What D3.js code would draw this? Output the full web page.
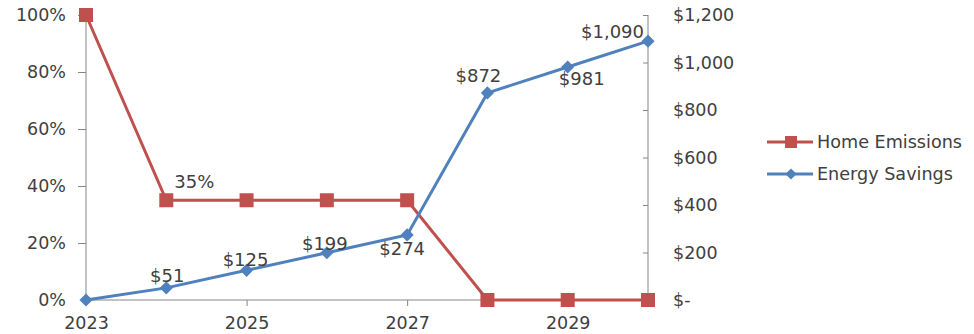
<!DOCTYPE html>
<html>
<head>
<meta charset="utf-8">
<script src="https://cdn.jsdelivr.net/npm/d3@7"></script>
<style>
  body { margin: 0; background: #fff; }
  text { font-family: "DejaVu Sans", sans-serif; fill: #404040; }
</style>
</head>
<body>
<svg class="svg" width="974" height="334"></svg>
<script>
var years = [2023, 2024, 2025, 2026, 2027, 2028, 2029, 2030];
var yearLabels = [2023, 2025, 2027, 2029];
var emissions = [1.00, 0.35, 0.35, 0.35, 0.35, 0, 0, 0];
var savings = [0, 51, 125, 199, 274, 872, 981, 1090];
var pctTicks = [0, 0.2, 0.4, 0.6, 0.8, 1.0];
var dollarTicks = [0, 200, 400, 600, 800, 1000, 1200];
// which labels are shown
var emissionShown = [false, true, false, false, false, false, false, false];
var savingShown = [false, true, true, true, true, true, true, true];

var red = '#C0504D';
var blue = '#4F81BD';
var axisColor = '#868686';

// hand-moved label spots (like dragging them in the spreadsheet)
var emissionNudge = [null, [8, -12, 'start']];
var savingNudge = [null, [1, -6, 'middle'], [-1, -4, 'middle'], [-2, -3, 'middle'],
    [-5, 20, 'middle'], [-9, -11, 'middle'], [14, 18, 'middle'], [-4, -3, 'end']];

var svg = d3.select('.svg');
var margin = {top: 15, right: 326, bottom: 34, left: 86};
var width = 974 - margin.left - margin.right;
var height = 334 - margin.top - margin.bottom;
var g = svg.append('g').attr('transform', 'translate(' + margin.left + ',' + margin.top + ')');

var x = d3.scalePoint()
    .domain(years)
    .range([0, width]);

var yl = d3.scaleLinear()
    .domain([0, 1])
    .range([height, 0]);

var yr = d3.scaleLinear()
    .domain([0, 1200])
    .range([height, 0]);

var left = g.append('g')
    .call(d3.axisLeft(yl).tickValues(pctTicks).tickFormat(d3.format('.0%')).tickSize(8).tickPadding(12));

var right = g.append('g')
    .attr('transform', 'translate(' + width + ',0)')
    .call(d3.axisRight(yr).tickValues(dollarTicks)
        .tickFormat((d) => d === 0 ? '$-' : d3.format('$,')(d))
        .tickSize(-5).tickPadding(25));

var bottom = g.append('g')
    .attr('transform', 'translate(0,' + height + ')')
    .call(d3.axisBottom(x).tickValues(yearLabels).tickSize(6).tickPadding(6));

[left, right, bottom].forEach((a) => {
    a.selectAll('path, line').attr('stroke', axisColor);
    a.selectAll('path').attr('d', null);
    a.selectAll('text').style('font-size', '17.5px').attr('fill', '#404040');
});
left.select('.tick line').attr('x2', 0);
left.append('line').attr('y1', 0).attr('y2', height).attr('stroke', axisColor);
right.append('line').attr('y1', 0).attr('y2', height).attr('stroke', axisColor);
bottom.append('line').attr('x1', 0).attr('x2', width).attr('stroke', axisColor);
bottom.selectAll('text').attr('dy', '0.95em');

var lineE = d3.line()
    .x((d, i) => x(years[i]))
    .y((d) => yl(d));

var lineS = d3.line()
    .x((d, i) => x(years[i]))
    .y((d) => yr(d));

g.append('path')
    .datum(emissions)
    .attr('fill', 'none')
    .attr('stroke', red)
    .attr('stroke-width', 3)
    .attr('d', lineE);

g.append('path')
    .datum(savings)
    .attr('fill', 'none')
    .attr('stroke', blue)
    .attr('stroke-width', 3)
    .attr('d', lineS);

g.selectAll('.sq')
    .data(emissions)
    .enter().append('rect')
    .attr('x', (d, i) => x(years[i]) - 7)
    .attr('y', (d) => yl(d) - 7)
    .attr('width', 14)
    .attr('height', 14)
    .attr('fill', red);

var diamond = d3.symbol().type(d3.symbolDiamond2).size(110);
g.selectAll('.dm')
    .data(savings)
    .enter().append('path')
    .attr('transform', (d, i) => 'translate(' + x(years[i]) + ',' + yr(d) + ')')
    .attr('d', diamond)
    .attr('fill', blue);

// data labels
g.selectAll('.le')
    .data(emissions.map((d, i) => ({v: d, i: i})).filter((d) => emissionShown[d.i]))
    .enter().append('text')
    .attr('x', (d) => x(years[d.i]) + emissionNudge[d.i][0])
    .attr('y', (d) => yl(d.v) + emissionNudge[d.i][1])
    .attr('text-anchor', (d) => emissionNudge[d.i][2])
    .style('font-size', '18px')
    .text((d) => d3.format('.0%')(d.v));

g.selectAll('.ls')
    .data(savings.map((d, i) => ({v: d, i: i})).filter((d) => savingShown[d.i]))
    .enter().append('text')
    .attr('x', (d) => x(years[d.i]) + savingNudge[d.i][0])
    .attr('y', (d) => yr(d.v) + savingNudge[d.i][1])
    .attr('text-anchor', (d) => savingNudge[d.i][2])
    .style('font-size', '18px')
    .text((d) => d3.format('$,')(d.v));

// legend
var legend = svg.append('g').attr('transform', 'translate(767,142)');
var items = [{name: 'Home Emissions', color: red, shape: 'sq'}, {name: 'Energy Savings', color: blue, shape: 'dm'}];
items.forEach((it, i) => {
    var row = legend.append('g').attr('transform', 'translate(0,' + (i * 32) + ')');
    row.append('line').attr('x1', 0).attr('x2', 46).attr('stroke', it.color).attr('stroke-width', 3);
    if (it.shape === 'sq') {
        row.append('rect').attr('x', 18).attr('y', -6).attr('width', 12).attr('height', 12).attr('fill', it.color);
    } else {
        row.append('path').attr('transform', 'translate(24,0)').attr('d', d3.symbol().type(d3.symbolDiamond2).size(80)).attr('fill', it.color);
    }
    row.append('text').attr('x', 50).attr('dy', '0.35em').style('font-size', '17.6px').text(it.name);
});
</script>
</body>
</html>
